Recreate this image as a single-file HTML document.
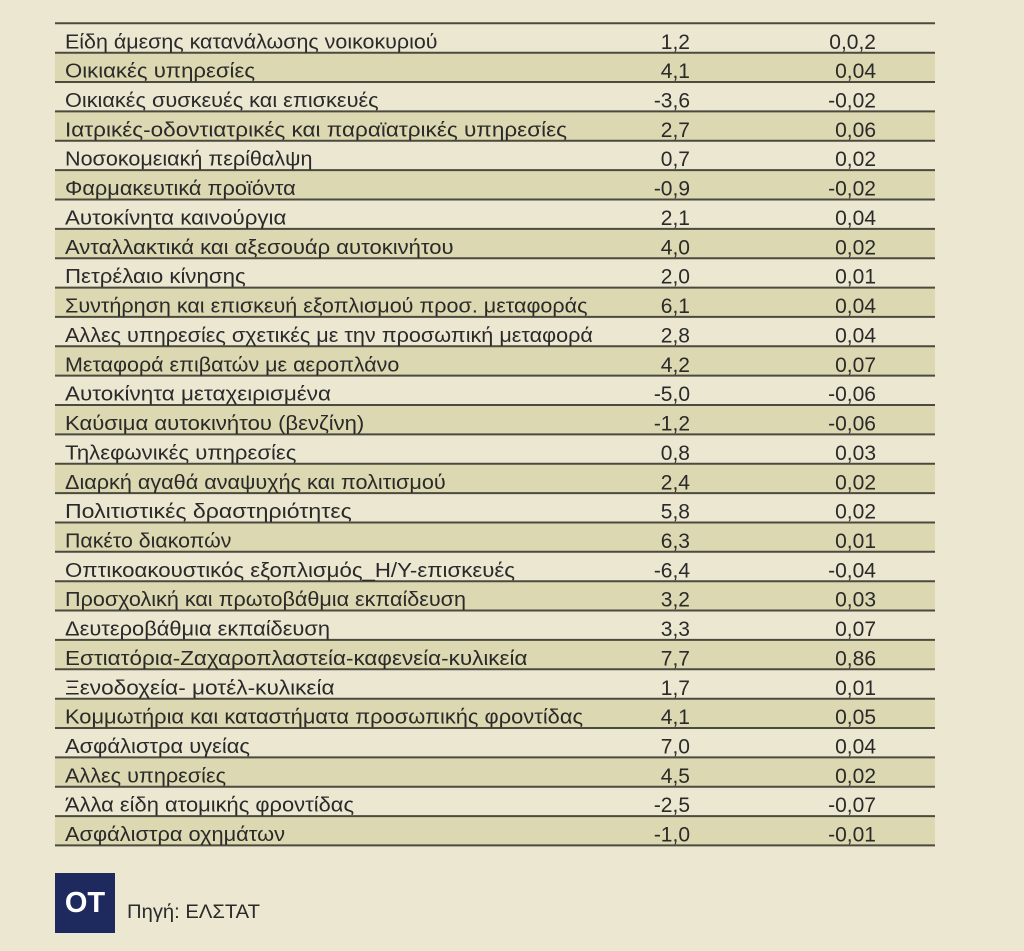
<!DOCTYPE html>
<html>
<head>
<meta charset="utf-8">
<style>
  html,body{margin:0;padding:0;background:#ece7d1;}
  svg{display:block;}
  .lbl{font-family:"Liberation Sans","DejaVu Sans",sans-serif;font-size:20.5px;fill:#2a2a2a;}
  .num{font-family:"Liberation Sans","DejaVu Sans",sans-serif;font-size:21px;fill:#2a2a2a;text-anchor:end;}
</style>
</head>
<body>
<svg width="1024" height="951" viewBox="0 0 1024 951" xmlns="http://www.w3.org/2000/svg">
  <rect x="0" y="0" width="1024" height="951" fill="#ece7d1"/>
  <g fill="#dcd8b1">
    <rect x="55" y="52.7" width="880" height="29.4"/>
    <rect x="55" y="111.4" width="880" height="29.4"/>
    <rect x="55" y="170.1" width="880" height="29.4"/>
    <rect x="55" y="228.9" width="880" height="29.4"/>
    <rect x="55" y="287.6" width="880" height="29.4"/>
    <rect x="55" y="346.3" width="880" height="29.4"/>
    <rect x="55" y="405.0" width="880" height="29.4"/>
    <rect x="55" y="463.8" width="880" height="29.4"/>
    <rect x="55" y="522.5" width="880" height="29.4"/>
    <rect x="55" y="581.2" width="880" height="29.4"/>
    <rect x="55" y="639.9" width="880" height="29.4"/>
    <rect x="55" y="698.7" width="880" height="29.4"/>
    <rect x="55" y="757.4" width="880" height="29.4"/>
    <rect x="55" y="816.1" width="880" height="29.4"/>
  </g>
  <g stroke="#4a4a3f" stroke-width="2">
    <line x1="55" x2="935" y1="23.3" y2="23.3"/>
    <line x1="55" x2="935" y1="52.7" y2="52.7"/>
    <line x1="55" x2="935" y1="82.0" y2="82.0"/>
    <line x1="55" x2="935" y1="111.4" y2="111.4"/>
    <line x1="55" x2="935" y1="140.7" y2="140.7"/>
    <line x1="55" x2="935" y1="170.1" y2="170.1"/>
    <line x1="55" x2="935" y1="199.5" y2="199.5"/>
    <line x1="55" x2="935" y1="228.9" y2="228.9"/>
    <line x1="55" x2="935" y1="258.2" y2="258.2"/>
    <line x1="55" x2="935" y1="287.6" y2="287.6"/>
    <line x1="55" x2="935" y1="316.9" y2="316.9"/>
    <line x1="55" x2="935" y1="346.3" y2="346.3"/>
    <line x1="55" x2="935" y1="375.6" y2="375.6"/>
    <line x1="55" x2="935" y1="405.0" y2="405.0"/>
    <line x1="55" x2="935" y1="434.4" y2="434.4"/>
    <line x1="55" x2="935" y1="463.8" y2="463.8"/>
    <line x1="55" x2="935" y1="493.1" y2="493.1"/>
    <line x1="55" x2="935" y1="522.5" y2="522.5"/>
    <line x1="55" x2="935" y1="551.8" y2="551.8"/>
    <line x1="55" x2="935" y1="581.2" y2="581.2"/>
    <line x1="55" x2="935" y1="610.5" y2="610.5"/>
    <line x1="55" x2="935" y1="639.9" y2="639.9"/>
    <line x1="55" x2="935" y1="669.3" y2="669.3"/>
    <line x1="55" x2="935" y1="698.7" y2="698.7"/>
    <line x1="55" x2="935" y1="728.0" y2="728.0"/>
    <line x1="55" x2="935" y1="757.4" y2="757.4"/>
    <line x1="55" x2="935" y1="786.7" y2="786.7"/>
    <line x1="55" x2="935" y1="816.1" y2="816.1"/>
    <line x1="55" x2="935" y1="845.4" y2="845.4"/>
  </g>
  <g class="lbl">
    <text class="lbl" x="65" y="48.3" textLength="372.5" lengthAdjust="spacingAndGlyphs">Είδη άμεσης κατανάλωσης νοικοκυριού</text>
    <text class="lbl" x="65" y="77.7" textLength="190" lengthAdjust="spacingAndGlyphs">Οικιακές υπηρεσίες</text>
    <text class="lbl" x="65" y="107.0" textLength="313.6" lengthAdjust="spacingAndGlyphs">Οικιακές συσκευές και επισκευές</text>
    <text class="lbl" x="65" y="136.4" textLength="502" lengthAdjust="spacingAndGlyphs">Ιατρικές-οδοντιατρικές και παραϊατρικές υπηρεσίες</text>
    <text class="lbl" x="65" y="165.7" textLength="247.5" lengthAdjust="spacingAndGlyphs">Νοσοκομειακή περίθαλψη</text>
    <text class="lbl" x="65" y="195.1" textLength="230.7" lengthAdjust="spacingAndGlyphs">Φαρμακευτικά προϊόντα</text>
    <text class="lbl" x="65" y="224.5" textLength="221.4" lengthAdjust="spacingAndGlyphs">Αυτοκίνητα καινούργια</text>
    <text class="lbl" x="65" y="253.9" textLength="388.6" lengthAdjust="spacingAndGlyphs">Ανταλλακτικά και αξεσουάρ αυτοκινήτου</text>
    <text class="lbl" x="65" y="283.2" textLength="180.7" lengthAdjust="spacingAndGlyphs">Πετρέλαιο κίνησης</text>
    <text class="lbl" x="65" y="312.6" textLength="522.5" lengthAdjust="spacingAndGlyphs">Συντήρηση και επισκευή εξοπλισμού προσ. μεταφοράς</text>
    <text class="lbl" x="65" y="341.9" textLength="527.9" lengthAdjust="spacingAndGlyphs">Αλλες υπηρεσίες σχετικές με την προσωπική μεταφορά</text>
    <text class="lbl" x="65" y="371.3" textLength="334.3" lengthAdjust="spacingAndGlyphs">Μεταφορά επιβατών με αεροπλάνο</text>
    <text class="lbl" x="65" y="400.6" textLength="266" lengthAdjust="spacingAndGlyphs">Αυτοκίνητα μεταχειρισμένα</text>
    <text class="lbl" x="65" y="430.0" textLength="299.3" lengthAdjust="spacingAndGlyphs">Καύσιμα αυτοκινήτου (βενζίνη)</text>
    <text class="lbl" x="65" y="459.4" textLength="231.4" lengthAdjust="spacingAndGlyphs">Τηλεφωνικές υπηρεσίες</text>
    <text class="lbl" x="65" y="488.8" textLength="380.7" lengthAdjust="spacingAndGlyphs">Διαρκή αγαθά αναψυχής και πολιτισμού</text>
    <text class="lbl" x="65" y="518.1" textLength="286.8" lengthAdjust="spacingAndGlyphs">Πολιτιστικές δραστηριότητες</text>
    <text class="lbl" x="65" y="547.5" textLength="166.4" lengthAdjust="spacingAndGlyphs">Πακέτο διακοπών</text>
    <text class="lbl" x="65" y="576.8" textLength="450" lengthAdjust="spacingAndGlyphs">Οπτικοακουστικός εξοπλισμός_Η/Υ-επισκευές</text>
    <text class="lbl" x="65" y="606.2" textLength="401" lengthAdjust="spacingAndGlyphs">Προσχολική και πρωτοβάθμια εκπαίδευση</text>
    <text class="lbl" x="65" y="635.5" textLength="265" lengthAdjust="spacingAndGlyphs">Δευτεροβάθμια εκπαίδευση</text>
    <text class="lbl" x="65" y="664.9" textLength="462.5" lengthAdjust="spacingAndGlyphs">Εστιατόρια-Ζαχαροπλαστεία-καφενεία-κυλικεία</text>
    <text class="lbl" x="65" y="694.3" textLength="269.6" lengthAdjust="spacingAndGlyphs">Ξενοδοχεία- μοτέλ-κυλικεία</text>
    <text class="lbl" x="65" y="723.7" textLength="518" lengthAdjust="spacingAndGlyphs">Κομμωτήρια και καταστήματα προσωπικής φροντίδας</text>
    <text class="lbl" x="65" y="753.0" textLength="185" lengthAdjust="spacingAndGlyphs">Ασφάλιστρα υγείας</text>
    <text class="lbl" x="65" y="782.4" textLength="161" lengthAdjust="spacingAndGlyphs">Αλλες υπηρεσίες</text>
    <text class="lbl" x="65" y="811.7" textLength="289" lengthAdjust="spacingAndGlyphs">Άλλα είδη ατομικής φροντίδας</text>
    <text class="lbl" x="65" y="841.1" textLength="220" lengthAdjust="spacingAndGlyphs">Ασφάλιστρα οχημάτων</text>
  </g>
  <g>
    <text class="num" x="690" y="48.8">1,2</text>
    <text class="num" x="690" y="78.2">4,1</text>
    <text class="num" x="690" y="107.5">-3,6</text>
    <text class="num" x="690" y="136.9">2,7</text>
    <text class="num" x="690" y="166.2">0,7</text>
    <text class="num" x="690" y="195.6">-0,9</text>
    <text class="num" x="690" y="225.0">2,1</text>
    <text class="num" x="690" y="254.4">4,0</text>
    <text class="num" x="690" y="283.7">2,0</text>
    <text class="num" x="690" y="313.1">6,1</text>
    <text class="num" x="690" y="342.4">2,8</text>
    <text class="num" x="690" y="371.8">4,2</text>
    <text class="num" x="690" y="401.1">-5,0</text>
    <text class="num" x="690" y="430.5">-1,2</text>
    <text class="num" x="690" y="459.9">0,8</text>
    <text class="num" x="690" y="489.3">2,4</text>
    <text class="num" x="690" y="518.6">5,8</text>
    <text class="num" x="690" y="548.0">6,3</text>
    <text class="num" x="690" y="577.3">-6,4</text>
    <text class="num" x="690" y="606.7">3,2</text>
    <text class="num" x="690" y="636.0">3,3</text>
    <text class="num" x="690" y="665.4">7,7</text>
    <text class="num" x="690" y="694.8">1,7</text>
    <text class="num" x="690" y="724.2">4,1</text>
    <text class="num" x="690" y="753.5">7,0</text>
    <text class="num" x="690" y="782.9">4,5</text>
    <text class="num" x="690" y="812.2">-2,5</text>
    <text class="num" x="690" y="841.6">-1,0</text>
  </g>
  <g>
    <text class="num" x="876" y="48.8">0,0,2</text>
    <text class="num" x="876" y="78.2">0,04</text>
    <text class="num" x="876" y="107.5">-0,02</text>
    <text class="num" x="876" y="136.9">0,06</text>
    <text class="num" x="876" y="166.2">0,02</text>
    <text class="num" x="876" y="195.6">-0,02</text>
    <text class="num" x="876" y="225.0">0,04</text>
    <text class="num" x="876" y="254.4">0,02</text>
    <text class="num" x="876" y="283.7">0,01</text>
    <text class="num" x="876" y="313.1">0,04</text>
    <text class="num" x="876" y="342.4">0,04</text>
    <text class="num" x="876" y="371.8">0,07</text>
    <text class="num" x="876" y="401.1">-0,06</text>
    <text class="num" x="876" y="430.5">-0,06</text>
    <text class="num" x="876" y="459.9">0,03</text>
    <text class="num" x="876" y="489.3">0,02</text>
    <text class="num" x="876" y="518.6">0,02</text>
    <text class="num" x="876" y="548.0">0,01</text>
    <text class="num" x="876" y="577.3">-0,04</text>
    <text class="num" x="876" y="606.7">0,03</text>
    <text class="num" x="876" y="636.0">0,07</text>
    <text class="num" x="876" y="665.4">0,86</text>
    <text class="num" x="876" y="694.8">0,01</text>
    <text class="num" x="876" y="724.2">0,05</text>
    <text class="num" x="876" y="753.5">0,04</text>
    <text class="num" x="876" y="782.9">0,02</text>
    <text class="num" x="876" y="812.2">-0,07</text>
    <text class="num" x="876" y="841.6">-0,01</text>
  </g>
  <rect x="55" y="873" width="60" height="60" fill="#1e2a5e"/>
  <text x="85" y="912" text-anchor="middle" font-family="'Liberation Sans', sans-serif" font-weight="bold" font-size="29" fill="#ffffff">OT</text>
  <text x="127" y="918" font-family="'Liberation Sans', sans-serif" font-size="19" fill="#2a2a2a" textLength="133" lengthAdjust="spacingAndGlyphs">Πηγή: ΕΛΣΤΑΤ</text>
</svg>
</body>
</html>
